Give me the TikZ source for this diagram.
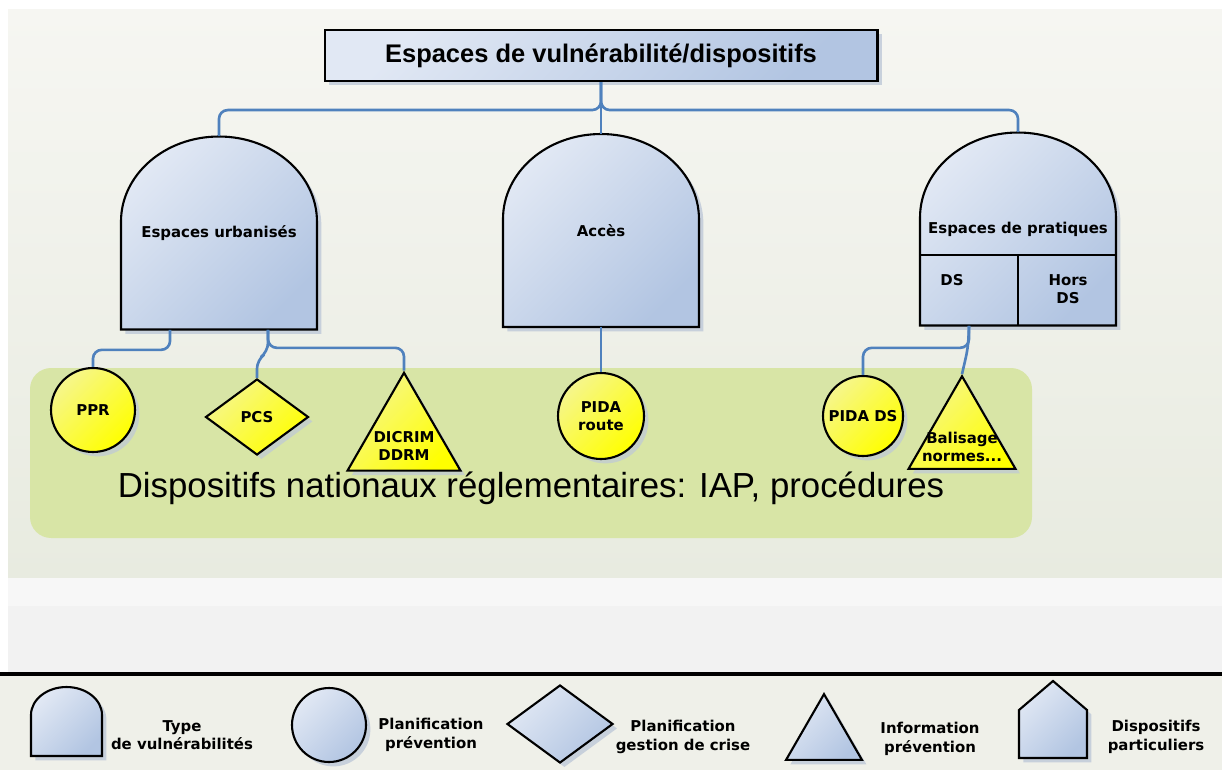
\documentclass[tikz,border=0pt]{standalone}
\usepackage{fontspec}
\setmainfont{Liberation Sans}
\newfontfamily\verd{DejaVu Sans}
\usetikzlibrary{shapes}
\usetikzlibrary{shadows}
\usetikzlibrary{calc,positioning}

\definecolor{boxtop}{RGB}{225,232,244}
\definecolor{boxbot}{RGB}{178,197,226}
\definecolor{yeltop}{RGB}{246,246,140}
\definecolor{yelbot}{RGB}{255,255,0}
\definecolor{linkblue}{RGB}{79,129,189}
\definecolor{bandgreen}{RGB}{216,229,166}
\definecolor{bgtop}{RGB}{246,246,242}
\definecolor{bgbot}{RGB}{232,235,224}
\definecolor{legbg}{RGB}{239,240,233}
\definecolor{shadowc}{RGB}{190,200,216}

% dome of a type of vulnerability, centred at (#1,#2), in pixels
\newcommand{\drawdome}[2]{%
  \draw[frame] (#1-98,#2+96.5) -- (#1-98,#2-11.5)
    arc[start angle=180, end angle=0, x radius=1.96cm, y radius=1.7cm]
    -- (#1+98,#2+96.5) -- cycle;}

\begin{document}
\begin{tikzpicture}[x=0.02cm,y=-0.02cm]
	\tikzstyle{frame}=[draw=black, line width=1.2pt, top color=boxtop, bottom color=boxbot,
	shading angle=45, drop shadow={shadow xshift=2.5pt, shadow yshift=-2.5pt, fill=shadowc, opacity=.8}]
	\tikzstyle{domebox}=[rectangle, minimum width=3.92cm, minimum height=3.86cm, inner sep=0pt,
	font=\verd\bfseries\fontsize{8.5}{10.2}\selectfont]
	\tikzstyle{planif}=[draw=black, line width=1.2pt, top color=yeltop, bottom color=yelbot,
	shading angle=45, drop shadow={shadow xshift=2.5pt, shadow yshift=-2.5pt, fill=shadowc, opacity=.7},
	inner sep=0pt, align=center, font=\verd\bfseries\fontsize{8.5}{10.2}\selectfont]
	\tikzstyle{ytxt}=[align=center, font=\verd\bfseries\fontsize{8.5}{10.2}\selectfont]
	\tikzstyle{legtxt}=[align=center, font=\verd\bfseries\fontsize{8.5}{10.4}\selectfont]
	\tikzstyle{conn}=[draw=linkblue, line width=1.5pt, rounded corners=5pt]
	\useasboundingbox (0,0) rectangle (1222,770);
	% background
	\fill[white] (0,0) rectangle (1222,770);
	\fill[top color=bgtop, bottom color=bgbot] (8,10) rectangle (1222,578);
	\fill[black!3] (8,578) rectangle (1222,606);
	\fill[black!5] (8,606) rectangle (1222,672);
	\fill[legbg] (0,676) rectangle (1222,770);
	\draw[line width=1.8pt] (0,674) -- (1222,674);
	\fill[bandgreen, rounded corners=12pt] (30,368) rectangle (1032,538);
	% types of vulnerability
	\drawdome{219}{233}
	\drawdome{601}{230.5}
	\drawdome{1018}{229}
	\draw[line width=1.2pt] (920,255) -- (1116,255) (1018,255) -- (1018,325.5);
	\node[domebox] (urb) at (219,233) {Espaces urbanisés};
	\node[domebox] (acces) at (601,230.5) {Accès};
	\node[domebox] (prat) at (1018,229) {Espaces de pratiques};
	\node[ytxt] (ds) at (952,280) {DS};
	\node[ytxt] (hds) at (1068,289) {Hors\\DS};
	\node[frame, minimum width=11.06cm, minimum height=1.02cm,
	font=\bfseries\fontsize{14.5}{16}\selectfont] (title) at (601,55.5) {Espaces de vulnérabilité/dispositifs};
	% dispositifs
	\node[planif, circle, minimum size=1.68cm] (ppr) at (93,410) {PPR};
	\node[planif, diamond, minimum width=2.06cm, minimum height=1.52cm] (pcs) at (257,417) {PCS};
	\node[planif, regular polygon, regular polygon sides=3, minimum size=2.61cm] (dicrim) at (404,438) {};
	\node[planif, circle, minimum size=1.72cm] (pidar) at (601,416) {PIDA\\route};
	\node[planif, circle, minimum size=1.6cm] (pidads) at (863,416) {PIDA DS};
	\node[planif, regular polygon, regular polygon sides=3, minimum size=2.47cm] (bal) at (962,438) {};
	\node[ytxt] (dicrimtxt) at (404,446) {DICRIM\\DDRM};
	\node[ytxt] (baltxt) at (962,447) {Balisage\\normes...};
	% links
	\draw[conn] (title.south) -- ++(0,28) -| (urb.north);
	\draw[conn] (title.south) -- ++(0,28) -| (prat.north);
	\draw[conn] (title.south) -- (acces.north);
	\draw[conn] ([xshift=-0.98cm]urb.south) -- ++(0,20) -| (ppr.north);
	\draw[conn] ([xshift=0.98cm]urb.south) -- ++(0,18) -| (dicrim.corner 1);
	\draw[conn] ([xshift=0.98cm]urb.south) -- ++(0,22) -- ++(-11,8) -- (pcs.north);
	\draw[conn] (acces.south) -- (pidar.north);
	\draw[conn] ([xshift=-0.98cm]prat.south) -- ++(0,22) -| (pidads.north);
	\draw[conn] ([xshift=-0.98cm]prat.south) -- ++(-1,22) -- (bal.corner 1);
	\node[font=\fontsize{19.8}{22}\selectfont] (natl) at (531,488) {Dispositifs nationaux réglementaires: IAP, procédures};
	% legend
	\draw[frame] (31,756) -- (31,715) arc[start angle=180, end angle=0, x radius=0.71cm, y radius=0.56cm]
	-- (102,756) -- cycle;
	\node[frame, circle, minimum size=1.48cm, inner sep=0pt] (legplan) at (329,725) {};
	\node[frame, diamond, minimum width=2.12cm, minimum height=1.56cm, inner sep=0pt] (legcrise) at (560,724) {};
	\node[frame, regular polygon, regular polygon sides=3, minimum size=1.755cm, inner sep=0pt] (leginfo) at (824,738) {};
	\draw[frame] (1019,758) -- (1019,710) -- (1053,681) -- (1087,710) -- (1087,758) -- cycle;
	\node[legtxt] (legtype) at (182,735) {Type\\de vulnérabilités};
	\node[legtxt] (legprev) at (431,735) {Planification\\prévention};
	\node[legtxt] (leggest) at (683,737) {Planification\\gestion de crise};
	\node[legtxt] (leginf) at (930,739) {Information\\prévention};
	\node[legtxt] (legdisp) at (1156,737) {Dispositifs\\particuliers};
\end{tikzpicture}
\end{document}
